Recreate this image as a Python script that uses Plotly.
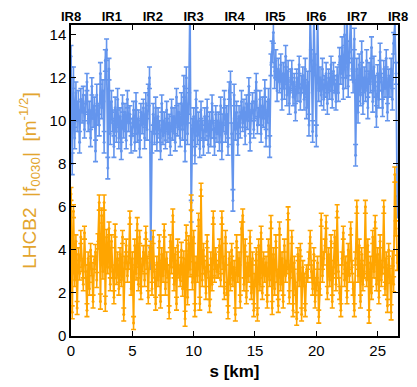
import plotly.graph_objects as go

# s positions (km), one point every 0.1 km
s_km = [round(i * 0.1, 1) for i in range(267)]

# LHCB2 |f0030| [m^-1/2] - blue series (rows = 1 km each)
blue_vals = [
    13.0, 8.0, 12.0, 9.2, 11.3, 10.0, 10.9, 9.0, 11.0, 10.4,
    11.2, 9.6, 10.8, 11.8, 9.9, 10.5, 9.2, 11.6, 10.1, 10.7,
    8.6, 11.2, 10.3, 9.8, 12.2, 10.6, 11.4, 9.0, 12.8, 13.3,
    7.8, 12.4, 9.4, 10.9, 10.0, 8.8, 10.6, 9.5, 11.0, 9.2,
    10.2, 8.6, 10.8, 9.6, 10.4, 9.1, 11.0, 9.9, 10.3, 8.9,
    9.7, 10.5, 9.0, 10.9, 9.4, 10.1, 8.7, 10.4, 9.8, 10.6,
    9.2, 10.8, 9.6, 11.2, 12.0, 3.6, 9.0, 10.3, 9.4, 10.6,
    9.0, 10.2, 9.6, 8.6, 10.8, 9.3, 10.0, 9.1, 10.5, 9.4,
    9.9, 8.8, 10.6, 9.5, 10.2, 9.0, 11.1, 9.7, 10.4, 9.2,
    10.8, 9.6, 11.6, 8.6, 12.0, 9.4, 10.8, 15.5, 5.8, 9.6,
    10.2, 8.4, 11.0, 9.3, 10.0, 8.7, 10.5, 9.6, 8.8, 10.2,
    9.5, 10.6, 8.9, 10.0, 9.2, 10.8, 9.6, 8.8, 10.3, 9.4,
    10.0, 9.0, 10.7, 8.6, 9.9, 11.0, 9.4, 10.3, 8.8, 11.4,
    11.8, 9.4, 6.3, 11.2, 9.6, 10.4, 8.9, 10.2, 9.7, 10.9,
    9.9, 10.6, 9.3, 10.8, 10.0, 11.6, 9.0, 10.4, 10.9, 9.6,
    10.5, 11.8, 9.8, 10.2, 11.0, 9.4, 10.7, 10.1, 11.5, 9.2,
    10.4, 11.0, 8.8, 12.6, 13.2, 14.1, 12.0, 12.8, 11.4, 12.4,
    11.8, 12.6, 11.0, 12.2, 11.5, 13.0, 11.2, 12.3, 10.8, 11.9,
    12.4, 11.1, 11.8, 10.4, 12.0, 11.3, 12.6, 10.9, 11.7, 12.1,
    11.0, 12.4, 10.6, 11.8, 9.8, 15.0, 12.8, 9.5, 15.0, 12.6,
    9.3, 15.0, 11.4, 12.0, 11.2, 12.4, 11.0, 11.6, 12.2, 10.8,
    12.0, 11.4, 12.6, 11.0, 12.3, 11.7, 10.9, 12.1, 11.3, 13.0,
    12.2, 13.4, 11.5, 14.0, 12.0, 15.0, 11.6, 13.2, 15.0, 12.4,
    11.8, 13.8, 8.4, 12.4, 10.4, 12.6, 11.2, 13.2, 10.8, 12.0,
    11.4, 12.8, 10.6, 12.2, 11.8, 13.4, 10.9, 12.5, 11.6, 10.2,
    12.2, 11.0, 13.2, 11.8, 10.6, 12.4, 11.5, 12.9, 10.4, 12.0,
    11.6, 12.4, 11.0, 13.6, 14.5, 12.2, 6.0,
]

# orange series
orange_vals = [
    6.6, 1.1, 5.8, 2.6, 4.4, 1.3, 3.8, 2.9, 4.6, 3.3,
    2.4, 4.8, 3.0, 1.2, 3.6, 2.2, 4.0, 3.1, 1.6, 3.4,
    3.9, 2.6, 4.4, 6.2, 1.6, 5.6, 3.0, 6.2, 1.5, 4.6,
    3.2, 5.0, 2.4, 4.4, 3.0, 1.8, 4.9, 2.7, 3.6, 2.2,
    3.8, 2.6, 4.6, 1.0, 3.4, 4.2, 2.8, 3.4, 5.5, 2.2,
    3.6, 0.6, 4.2, 2.9, 5.2, 2.4, 4.6, 2.0, 3.3, 3.9,
    2.6, 4.8, 3.4, 1.8, 3.9, 4.1, 2.2, 4.6, 3.0, 1.5,
    3.4, 2.6, 4.4, 1.6, 3.8, 2.8, 4.9, 2.2, 3.6, 3.0,
    1.1, 4.4, 3.2, 5.6, 2.4, 3.8, 1.5, 4.2, 3.0, 2.6,
    4.0, 2.2, 3.6, 0.8, 4.8, 1.8, 4.3, 3.1, 6.2, 2.5,
    4.6, 1.2, 3.4, 2.8, 5.4, 1.5, 6.8, 2.6, 4.0, 3.2,
    2.0, 4.4, 3.0, 1.4, 3.6, 2.4, 5.5, 2.8, 3.8, 3.0,
    3.0, 4.2, 2.6, 5.5, 3.4, 2.0, 4.6, 2.2, 1.1, 3.6,
    2.4, 4.0, 2.6, 3.2, 1.0, 4.4, 2.8, 3.6, 1.6, 5.0,
    5.6, 2.4, 4.2, 1.8, 3.4, 2.8, 4.6, 2.0, 3.6, 1.2,
    2.6, 3.8, 1.0, 4.2, 2.4, 4.8, 2.0, 3.6, 2.8, 3.4,
    1.6, 4.2, 2.6, 5.3, 1.3, 3.8, 2.2, 4.4, 2.8, 1.4,
    5.0, 2.4, 3.6, 1.6, 4.2, 2.8, 3.2, 5.7, 1.8, 3.0,
    4.6, 1.2, 3.4, 2.2, 0.8, 3.8, 2.6, 4.0, 1.0, 3.2,
    2.6, 1.2, 3.0, 2.8, 3.6, 4.6, 3.0, 2.2, 3.8, 1.6,
    2.4, 3.4, 0.9, 2.2, 5.4, 2.8, 3.6, 4.2, 5.3, 2.0,
    3.8, 2.6, 4.4, 1.6, 3.2, 4.6, 2.4, 5.8, 3.0, 2.0,
    1.2, 3.6, 4.8, 2.6, 3.4, 1.8, 4.0, 2.8, 5.0, 3.2,
    2.2, 1.2, 3.6, 6.0, 2.8, 4.2, 1.6, 3.8, 2.4, 3.0,
    6.0, 2.6, 4.2, 0.9, 3.4, 2.0, 4.6, 3.0, 5.3, 2.4,
    3.8, 1.8, 4.4, 2.6, 3.2, 6.0, 2.2, 3.6, 1.4, 4.0,
    2.8, 1.1, 3.6, 2.4, 7.5, 5.0, 3.4,
]

# error bar half-widths, one value per km
blue_err_km = [0.5, 0.4, 0.5, 0.5, 0.4, 0.4, 0.5, 0.4, 0.4, 0.5,
               0.4, 0.4, 0.4, 0.5, 0.4, 0.4, 0.5, 0.5, 0.4, 0.5,
               0.5, 0.4, 0.5, 0.5, 0.5, 0.4, 0.5]
orange_err_km = [0.3, 0.3, 0.35, 0.3, 0.3, 0.3, 0.3, 0.3, 0.3, 0.35,
                 0.3, 0.3, 0.3, 0.3, 0.3, 0.3, 0.3, 0.3, 0.3, 0.3,
                 0.3, 0.3, 0.3, 0.3, 0.3, 0.3, 0.35]
blue_err = [blue_err_km[int(s)] for s in s_km]
orange_err = [orange_err_km[int(s)] for s in s_km]

ir_labels = ["IR8", "IR1", "IR2", "IR3", "IR4", "IR5", "IR6", "IR7", "IR8"]
ir_pos = [0.0, 3.332, 6.665, 9.997, 13.33, 16.662, 19.994, 23.327, 26.659]

BLUE = "#6495ED"
ORANGE = "#FFA500"
FONT = "Liberation Sans, Arial, sans-serif"

fig = go.Figure()
fig.add_trace(go.Scatter(
    x=s_km, y=blue_vals, mode="lines+markers",
    line=dict(color=BLUE, width=1.8),
    marker=dict(color=BLUE, size=3),
    error_y=dict(type="data", array=blue_err, color=BLUE, thickness=1.6, width=2.5),
    showlegend=False,
))
fig.add_trace(go.Scatter(
    x=s_km, y=orange_vals, mode="lines+markers",
    line=dict(color=ORANGE, width=1.8),
    marker=dict(color=ORANGE, size=3),
    error_y=dict(type="data", array=orange_err, color=ORANGE, thickness=1.6, width=2.5),
    showlegend=False,
))
# invisible trace on top axis
fig.add_trace(go.Scatter(x=[0, 26.659], y=[0, 0], xaxis="x2", mode="markers",
                         marker=dict(opacity=0), showlegend=False, hoverinfo="skip"))

fig.update_layout(
    width=417, height=387,
    margin=dict(l=71, r=9, t=23, b=49),
    paper_bgcolor="white", plot_bgcolor="white",
    font=dict(family=FONT, color="black", size=15),
    xaxis=dict(
        range=[0, 26.659], tickvals=[0, 5, 10, 15, 20, 25],
        ticks="inside", ticklen=5, tickwidth=1, tickcolor="black",
        showline=True, linecolor="black", linewidth=1.5, mirror="ticks",
        showgrid=False, zeroline=False,
        tickfont=dict(size=15),
        title=dict(text="<b>s [km]</b>", font=dict(size=17), standoff=7),
    ),
    xaxis2=dict(
        overlaying="x", side="top", range=[0, 26.659],
        tickvals=ir_pos, ticktext=["<b>%s</b>" % t for t in ir_labels],
        ticks="", showline=False, showgrid=False, zeroline=False,
        tickfont=dict(size=13),
    ),
    yaxis=dict(
        range=[0, 14.45], tickvals=[0, 2, 4, 6, 8, 10, 12, 14],
        ticks="inside", ticklen=5, tickwidth=1, tickcolor="black",
        showline=True, linecolor="black", linewidth=1.5, mirror="ticks",
        showgrid=False, zeroline=False,
        tickfont=dict(size=15),
        title=dict(text="LHCB2&nbsp;&nbsp;|f<sub>0030</sub>|&nbsp;&nbsp;[m<sup>-1/2</sup>]",
                   font=dict(size=19, color="#E3A52E"), standoff=8),
    ),
)

fig.write_html("out.html")
